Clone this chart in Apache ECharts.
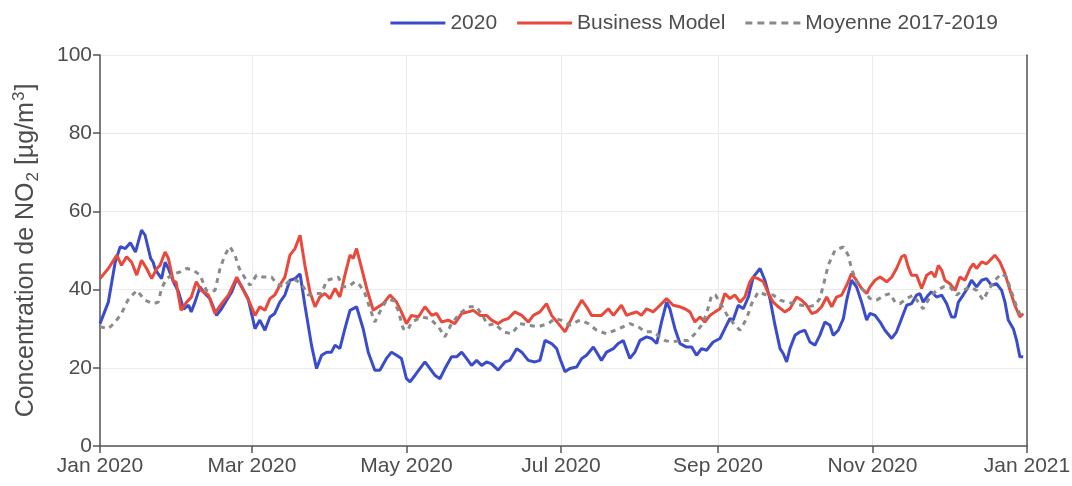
<!DOCTYPE html>
<html><head><meta charset="utf-8">
<script src="https://cdn.jsdelivr.net/npm/echarts@6/dist/echarts.min.js"></script>
<style>html,body{margin:0;padding:0;background:#fff}#c{width:1072px;height:486px}</style>
</head><body><div id="c"></div>
<script>
// x: day of year 2020 (0 = 1 Jan 2020), y: NO2 concentration (µg/m³)
const monthNames = ['Jan','Feb','Mar','Apr','May','Jun','Jul','Aug','Sep','Oct','Nov','Dec'];
const yTicks = [0, 20, 40, 60, 80, 100];
const seriesNames = ['2020', 'Business Model', 'Moyenne 2017-2019'];

const data2020 = [[0,31.3],[3.3,36.8],[6,47],[8,51],[10,50.5],[12,52],[14,49.6],[16.4,55.2],[17.8,53.9],[20,48],[21,47],[21.7,45.4],[23,44],[24.3,42.8],[25.7,47],[27,45.4],[29,42],[31,39.4],[33,35],[35,36],[36,34.3],[37.5,36.8],[39.5,40.7],[41.4,39],[43.4,37.7],[46,33.4],[48,35.1],[50,37.3],[52,39.4],[54,42.8],[56,40.7],[58.5,37.7],
[61.2,30],[63.1,32.2],[65.1,29.6],[67.1,33],[69,33.9],[71,36.8],[73,38.6],[75,42.4],[77,42.8],[79,44],[80.9,36],[83.5,25.8],[85.5,19.8],[87.5,23.2],[89.5,24],[91.4,24],[92.8,25.8],[94.7,24.9],[96.7,30],[98.7,34.7],[101.3,35.6],[103.9,30],[105.9,24],[108.5,19.4],[110.5,19.4],[113.1,22.4],[115.1,24],[117.1,23.2],[119,22.4],[121,17.2],
[122.4,16.4],[124.4,18.1],[126.3,19.8],[128.3,21.5],[130.3,19.8],[132.2,18.1],[134.2,17.2],[136.2,19.8],[138.8,22.8],[140.8,22.8],[142.8,24],[144.7,22.4],[146.7,20.6],[148.7,21.9],[150.7,20.6],[152.6,21.5],[154.6,21],[157.2,19.4],[159.9,21.5],[161.8,21.9],[164.5,24.9],[166.5,24],[169.1,21.9],[171.7,21.5],[173.7,21.9],[175.7,27],[178.3,26.2],[180.3,24.9],
[181.6,22.4],[183.6,19],[185.5,19.8],[188.2,20.2],[190.2,22.4],[192.1,23.2],[194.8,25.3],[198,21.9],[200,24],[202.7,24.9],[204.6,26.2],[206.6,27],[209.2,22.4],[211.2,24],[213.2,27],[215.8,27.9],[217.8,27.5],[219.8,26.2],[221.7,31.7],[223.7,36.8],[225,35.1],[227,30],[229,26.2],[231.6,25.3],[233.6,25.3],[235.5,23.2],[237.5,24.9],[239.5,24.5],[242.1,26.6],
[244.8,27.5],[246.7,30],[248.7,32.6],[250,32.2],[252,36],[254,35.1],[256,38.1],[257.9,43.2],[260.6,45.4],[262.5,42.4],[264.5,37.7],[266.5,30.9],[268.5,24.9],[269.8,23.6],[271.1,21.5],[272.4,24.9],[274.4,28.3],[276.4,29.2],[278.3,29.6],[280.3,26.6],[282.3,25.8],[284.2,28.3],[286.2,31.7],[288.2,30.9],[289.5,28.3],[291.5,29.6],[293.5,32.6],[294.8,37.3],[296.7,42.4],[298.7,40.7],[300.7,36.8],[302.7,32.2],
[304,33.9],[306,33.4],[308,31.7],[309.9,29.6],[312.6,27.5],[314.5,29.2],[316.5,32.6],[318.5,36],[320.4,36.4],[322.4,38.6],[323.7,39],[325,36.8],[327,38.6],[328.3,39.4],[330.3,38.1],[332.3,38.6],[334.3,36.4],[336.2,33],[337.6,33],[338.9,36.8],[340.8,38.6],[342.8,40.7],[344.1,42.4],[346.1,40.7],[348.1,42.4],[350,42.8],[352,41.1],[354,41.5],[356,39.8],[357.3,36.8],[358.6,32.2],[360.6,30],[361.9,27],[363.2,22.8],[364.5,22.8]];

const dataBusiness = [[0,42.8],[3.3,45.4],[6.6,48.8],[8.5,46.2],[10.5,48.4],[12.5,47],[14.5,43.7],[16.4,47.5],[18.4,45.4],[20.4,42.8],[22.4,45.4],[23.7,46.2],[25.7,49.6],[27,48],[29,42],[30,42],[32,34.7],[34.2,36.8],[36,38],[38,42],[40,39.8],[42.8,38.6],[45.4,33.9],[48,36.4],[50.7,38.6],[54,43.2],[56.6,39.8],[59,36.8],
[61.2,33.4],[63.1,35.6],[65.1,34.7],[67.1,37.7],[69,38.6],[71,41.1],[73,43.2],[75,48.8],[77,50.5],[79,53.9],[80.9,46.2],[82.9,39.4],[84.9,35.6],[86.8,38.1],[88.8,39],[90.8,37.7],[92.8,40.3],[94.7,38.1],[96.7,43.7],[98.7,48.8],[100,48],[101.3,50.5],[103.3,45.4],[105.3,40.3],[107.9,34.7],[109.9,35.6],[111.8,36.4],[114.5,38.6],[117.1,36.8],[119,34.3],[121,31.3],
[123,33.4],[125.7,33],[128.3,35.6],[131,33.4],[132.9,33.9],[134.9,31.7],[137.5,32.2],[140.1,31.3],[142.8,33.9],[145.4,34.3],[147.4,34.7],[150,33.4],[152.6,33.4],[154.6,32.2],[157.2,31.3],[159.2,32.2],[161.2,32.6],[163.8,34.3],[166.5,33.4],[169.1,31.7],[171.1,33.4],[173.7,34.3],[176.3,36.4],[178.3,33.4],[181,31.3],
[183.6,29.2],[185.5,31.7],[187.5,34.3],[190.2,37.3],[192.1,35.6],[194.1,33.4],[196.1,33.4],[198,33.4],[200.7,35.1],[202.7,33.4],[205.9,36],[207.9,33.4],[209.9,33.9],[211.9,34.3],[213.8,33.4],[215.8,35.1],[218.4,34.3],[221.1,36],[223.7,37.7],[226.3,36],[229,35.6],[230.9,35.1],[232.9,34.3],[234.9,31.7],[236.9,33],[238.8,31.7],[240.8,33.4],[242.8,34.3],
[244.8,35.1],[246.7,39],[248.7,37.7],[250.7,38.6],[252.7,36.8],[254.6,38.1],[256.6,42],[257.9,43.2],[259.9,42.8],[261.9,42],[263.9,39],[265.8,36.8],[267.8,35.6],[270.4,34.3],[272.4,35.1],[275,38.1],[277,37.3],[279,36],[281,33.9],[282.9,34.3],[284.9,35.6],[286.9,38.1],[288.9,35.6],[290.8,38.1],[292.8,38.6],[294.8,41.1],[296.7,44.1],[298.7,42.4],[300.7,40.3],[302.7,39],
[304,40.7],[306,42.4],[308,43.2],[310.6,42],[312.6,43.2],[314.5,45.4],[316.5,48.4],[317.8,48.8],[319.1,45.8],[320.4,43.7],[322.4,43.7],[324.4,40.3],[326.4,43.7],[328.3,44.5],[329.7,43.2],[331,46.2],[332.3,45],[333.6,42.4],[335.6,41.5],[337.6,39.8],[339.5,43.2],[341.5,42.4],[343.5,45.4],[344.8,46.6],[346.1,45.4],[348.1,47.1],[350,46.6],[351.4,47.5],[353.3,48.8],[355.3,47.1],[357.3,44.1],[359.3,39.8],[361.2,36],[363.2,33],[364.5,33.9]];

const dataMoyenne = [[0,30.5],[3.3,30],[6,31.7],[8.5,33.9],[11,37.3],[14.5,39.8],[17.8,37.3],[21,36.4],[23,36.8],[24.3,40.3],[26.3,42.8],[29,44],[31.6,44.5],[34.2,45.4],[36.8,45],[39.5,43.7],[42,39.8],[44,39.4],[45.4,39.8],[47.4,45.4],[49.3,48.8],[51.3,51],[53.3,48.8],[55,45.4],[57,43.2],
[59.2,41.1],[61.8,43.7],[64.5,43.2],[67.8,43.2],[69.7,41.5],[72.4,40.7],[75,42.4],[77.6,42.4],[80.3,40.7],[82.2,38.6],[84.9,39],[87.5,39],[89.5,42.4],[92.1,42.8],[94.1,43.2],[96,40.7],[98,40.7],[100.6,42],[102.6,41.1],[104.6,39],[106.6,35.1],[108.5,31.7],[110.5,34.3],[113.1,37.3],[115.8,37.3],[117.7,34.7],[119.7,30],
[121.5,29.6],[123,31.7],[127,33],[130.3,32.6],[133.6,30.5],[136.2,27.9],[138.8,31.3],[142.1,33.9],[145.4,35.6],[148.7,35.6],[151.3,33],[153.3,30.9],[155.9,31.3],[159.2,29.2],[162.5,28.7],[165.8,31.3],[169.1,30.9],[173,30.5],[177,31.3],[179.6,32.6],
[182,32.2],[185.5,30.9],[189.5,32.2],[192.8,31.3],[196.1,29.6],[200,28.7],[203.3,29.6],[206.6,30.5],[209.2,31.3],[212.5,30.5],[215.2,29.2],[218.4,29.2],[221.1,27.9],[223,27],[225.7,26.6],[229,27],[232.3,27],[234.9,28.7],[237.5,30.9],[239.5,33.9],[241.5,38.6],
[243,38.6],[245.4,36],[248,33],[250.7,30.9],[252.7,29.6],[255.3,32.6],[257.3,36.4],[259.9,39.4],[263.2,38.6],[265.8,38.6],[268.5,37.3],[271.1,36.8],[274.4,36.4],[277,36],[279.6,35.6],[282.3,36],[284.2,37.7],[285.6,41.1],[287.5,46.2],[290.2,50.1],[293.5,50.9],[295.4,48.8],[296.7,45.4],[298.7,42],[301.4,39.8],[304,37.7],
[306.6,37.3],[310,38.6],[311.9,39],[313.9,36.8],[315.8,36.4],[318.5,37.7],[321.1,38.6],[323.1,36.8],[325,35.1],[327.7,38.1],[330.3,39.8],[333,40.7],[335.6,40.7],[338.2,38.6],[340.8,39.8],[343.5,40.7],[346.1,39.8],[348.7,37.3],[350.7,39.8],[353.3,42.4],[356,44.1],[357.9,43.2],[359.9,39.4],[361.9,35.6],[363.8,33]];

const DAY = 86400000;
const T0 = Date.UTC(2020, 0, 1);
const T1 = Date.UTC(2021, 0, 1);
function toTime(arr) { return arr.map(p => [T0 + p[0] * DAY, p[1]]); }

const BLUE = '#3a4ccc', RED = '#e8493b', GREY = '#8a8a8a';
const DASH_ICON = 'path://M0,0h7v3h-7z M12,0h7v3h-7z M24,0h7v3h-7z M36,0h7v3h-7z M48,0h7v3h-7z';

const chart = echarts.init(document.getElementById('c'), null, {renderer: 'canvas'});
const FONT = 'Liberation Sans, Arial, sans-serif';
const TXT = '#4d4d4d';
const AX = '#555555';
chart.setOption({
  useUTC: true,
  animation: false,
  backgroundColor: '#ffffff',
  textStyle: {fontFamily: FONT},
  grid: {left: 100, right: 45, top: 55, bottom: 40, containLabel: false, outerBoundsMode: 'none'},
  legend: {
    data: [
      {name: seriesNames[0], icon: 'rect'},
      {name: seriesNames[1], icon: 'rect'},
      {name: seriesNames[2], icon: DASH_ICON}
    ],
    right: 69, top: 5,
    itemWidth: 55, itemHeight: 3, itemGap: 20,
    textStyle: {fontSize: 21, color: TXT, fontFamily: FONT, lineHeight: 26}
  },
  xAxis: {
    type: 'time', min: T0, max: T1, splitNumber: 5,
    axisLine: {show: true, lineStyle: {color: AX, width: 1.5}},
    axisTick: {show: true, length: 7, lineStyle: {color: AX, width: 1.5}},
    splitLine: {show: true, lineStyle: {color: '#ebebeb', width: 1}},
    axisLabel: {
      fontSize: 21, color: TXT, margin: 10, fontFamily: FONT,
      showMinLabel: true, showMaxLabel: true, hideOverlap: false,
      formatter: function (v) { const d = new Date(v); return monthNames[d.getUTCMonth()] + ' ' + d.getUTCFullYear(); }
    }
  },
  yAxis: [{
    type: 'value', min: yTicks[0], max: yTicks[yTicks.length - 1], interval: 20,
    name: 'Concentration de NO{sub|2} [µg/m{sup|3}]', nameLocation: 'middle', nameGap: 57, nameRotate: 90,
    nameTextStyle: {
      fontSize: 25, color: TXT, fontFamily: FONT, lineHeight: 34,
      rich: {
        sub: {fontSize: 17, color: TXT, fontFamily: FONT, verticalAlign: 'bottom', lineHeight: 34, padding: [0, 0, 1, 1]},
        sup: {fontSize: 17, color: TXT, fontFamily: FONT, verticalAlign: 'top', lineHeight: 34, padding: [2, 1, 0, 1]}
      }
    },
    axisLine: {show: true, lineStyle: {color: AX, width: 1.5}},
    axisTick: {show: true, length: 7, lineStyle: {color: AX, width: 1.5}},
    splitLine: {show: true, lineStyle: {color: '#ebebeb', width: 1}},
    axisLabel: {fontSize: 21, color: TXT, margin: 8, fontFamily: FONT}
  }, {
    type: 'value', min: 0, max: 100, position: 'right',
    axisLine: {show: true, lineStyle: {color: AX, width: 1.5}},
    axisTick: {show: false}, axisLabel: {show: false}, splitLine: {show: false}
  }],
  series: [
    {name: seriesNames[0], type: 'line', data: toTime(data2020), showSymbol: false, symbol: 'none',
     lineStyle: {color: BLUE, width: 3}, itemStyle: {color: BLUE}},
    {name: seriesNames[1], type: 'line', data: toTime(dataBusiness), showSymbol: false, symbol: 'none',
     lineStyle: {color: RED, width: 3}, itemStyle: {color: RED}},
    {name: seriesNames[2], type: 'line', data: toTime(dataMoyenne), showSymbol: false, symbol: 'none',
     lineStyle: {color: GREY, width: 3, type: [5, 5]}, itemStyle: {color: GREY}}
  ]
});
</script></body></html>
